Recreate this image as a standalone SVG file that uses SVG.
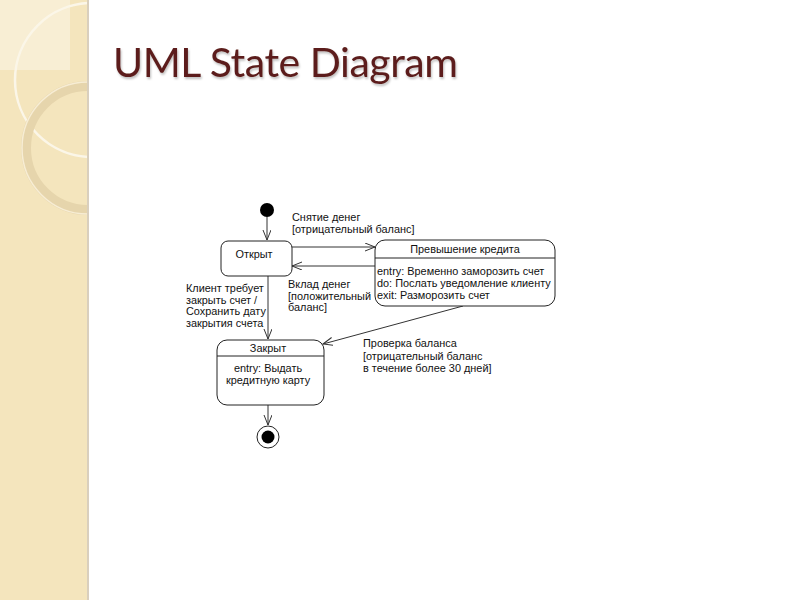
<svg xmlns="http://www.w3.org/2000/svg" width="800" height="600" viewBox="0 0 800 600">
<defs>
<style>
.t{font-family:"Liberation Sans",Arial,sans-serif;font-size:10.9px;fill:#111}
.c{text-anchor:middle}
.box{fill:#fff;stroke:#222;stroke-width:1}
.ln{stroke:#333;stroke-width:1;fill:none;marker-end:url(#arr)}
.title{font-family:"Lato","Open Sans",sans-serif;font-size:41px;fill:#5b1f1b}
</style>
<filter id="sh" x="-5%" y="-20%" width="110%" height="150%">
<feDropShadow dx="1" dy="2" stdDeviation="1.2" flood-color="#000" flood-opacity="0.25"/>
</filter>
<marker id="arr" markerUnits="userSpaceOnUse" markerWidth="12" markerHeight="10" refX="10" refY="4" orient="auto">
<path d="M0,0 L10,4 L0,8" fill="none" stroke="#333" stroke-width="1"/>
</marker>
<clipPath id="side"><rect x="0" y="0" width="88" height="600"/></clipPath>
</defs>
<rect width="800" height="600" fill="#fff"/>
<g id="sidebar">
<rect x="0" y="0" width="88" height="600" fill="#f4e5bd"/>
<rect x="0" y="0" width="70" height="70" fill="#f8eed4"/>
<g clip-path="url(#side)" fill="none">
<circle cx="92" cy="80" r="77" stroke="#fbf6e8" stroke-width="2.5"/>
<circle cx="88" cy="148" r="62" stroke="#e6d5ac" stroke-width="10"/>
<circle cx="88" cy="148" r="66" stroke="#f7edd4" stroke-width="1.5"/>
</g>
<rect x="87" y="0" width="2" height="600" fill="#d9cfbd"/>
</g>
<g id="title">
<text class="title" x="113" y="77" textLength="345" filter="url(#sh)">UML State Diagram</text>
</g>
<g id="connectors">
<line class="ln" x1="267" y1="217" x2="267" y2="240"/>
<line class="ln" x1="292" y1="247" x2="375" y2="247"/>
<line class="ln" x1="375" y1="266" x2="292" y2="266"/>
<line class="ln" x1="268" y1="276" x2="268" y2="339"/>
<line class="ln" x1="463" y1="306" x2="323" y2="344"/>
<line class="ln" x1="268" y1="405" x2="268" y2="425"/>
<text class="t" x="292" y="221">Снятие денег</text>
<text class="t" x="292" y="233">[отрицательный баланс]</text>
<text class="t" x="288" y="288">Вклад денег</text>
<text class="t" x="288" y="299.5">[положительный</text>
<text class="t" x="288" y="311">баланс]</text>
<text class="t" x="186" y="292">Клиент требует</text>
<text class="t" x="186" y="303.5">закрыть счет /</text>
<text class="t" x="186" y="315">Сохранить дату</text>
<text class="t" x="186" y="326.5">закрытия счета</text>
<text class="t" x="363" y="347">Проверка баланса</text>
<text class="t" x="363" y="359.5">[отрицательный баланс</text>
<text class="t" x="363" y="372">в течение более 30 дней]</text>
</g>
<g id="initial">
<circle cx="267" cy="210" r="7" fill="#000"/>
</g>
<g id="open">
<rect class="box" x="221" y="241" width="71" height="35" rx="7"/>
<text class="t c" x="254" y="258">Открыт</text>
</g>
<g id="overdraft">
<rect class="box" x="375" y="240" width="180" height="66" rx="10"/>
<line x1="375" y1="258" x2="555" y2="258" stroke="#222"/>
<text class="t c" x="465" y="253">Превышение кредита</text>
<text class="t" x="377" y="275">entry: Временно заморозить счет</text>
<text class="t" x="377" y="287">do: Послать уведомление клиенту</text>
<text class="t" x="377" y="299">exit: Разморозить счет</text>
</g>
<g id="closed">
<rect class="box" x="217" y="340" width="107" height="65" rx="10"/>
<line x1="217" y1="356" x2="324" y2="356" stroke="#222"/>
<text class="t c" x="268" y="352">Закрыт</text>
<text class="t c" x="268" y="372">entry:  Выдать</text>
<text class="t c" x="268" y="384">кредитную карту</text>
</g>
<g id="final">
<circle cx="268" cy="437" r="11" fill="#fff" stroke="#222"/>
<circle cx="268" cy="437" r="6.5" fill="#000"/>
</g>
</svg>
